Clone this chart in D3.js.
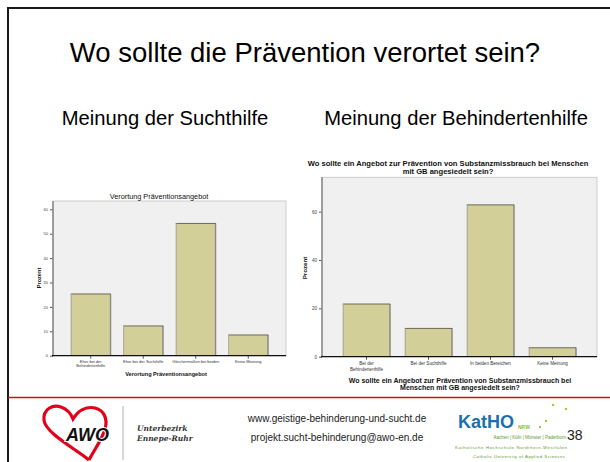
<!DOCTYPE html>
<html>
<head>
<meta charset="utf-8">
<script src="https://cdn.jsdelivr.net/npm/d3@7"></script>
<style>
  body { margin: 0; background: #fff; }
  svg { display: block; font-family: "Liberation Sans", Arial, sans-serif; }
</style>
</head>
<body>
<div id="slide"></div>
<script>
// values (percent)
const suchtCategories = ["Eher bei der\nBehindertenhilfe", "Eher bei der Suchthilfe", "Gleichermaßen bei beiden", "Keine Meinung"];
const suchtValues = [25.3, 12.2, 54.2, 8.5];
const suchtTicks = [0, 10, 20, 30, 40, 50, 60];

const behindCategories = ["Bei der\nBehindertenhilfe", "Bei der Suchthilfe", "In beiden Bereichen", "Keine Meinung"];
const behindValues = [21.8, 11.7, 62.8, 3.7];
const behindTicks = [0, 20, 40, 60];

const W = 610, H = 462;
const svg = d3.select("#slide").append("svg")
    .attr("width", W)
    .attr("height", H);

// slide frame
svg.append("path")
    .attr("d", `M8,${H} V8 H${W}`)
    .attr("fill", "none")
    .attr("stroke", "#1a1a1a")
    .attr("stroke-width", 2);

// headings
svg.append("text")
    .attr("x", 305).attr("y", 62)
    .attr("text-anchor", "middle")
    .style("font-size", "27.5px")
    .text("Wo sollte die Prävention verortet sein?");

svg.append("text")
    .attr("x", 165).attr("y", 125)
    .attr("text-anchor", "middle")
    .style("font-size", "20.2px")
    .text("Meinung der Suchthilfe");

svg.append("text")
    .attr("x", 456).attr("y", 125)
    .attr("text-anchor", "middle")
    .style("font-size", "20.2px")
    .text("Meinung der Behindertenhilfe");

function drawChart(cfg) {
    const g = svg.append("g");
    const [left, right] = cfg.xr;
    const [bottom, top] = cfg.yr;

    const x = d3.scaleBand()
        .domain(cfg.categories)
        .range([left, right])
        .paddingInner(cfg.pi)
        .paddingOuter(cfg.po);

    const y = d3.scaleLinear()
        .domain([0, cfg.ymax])
        .range([bottom, top]);

    // plot background
    g.append("rect")
        .attr("x", left).attr("y", top)
        .attr("width", right - left).attr("height", bottom - top)
        .attr("fill", "#f0f0f0")
        .attr("stroke", "#c4c4c4")
        .attr("stroke-width", 0.8);

    const data = cfg.categories.map((c, i) => ({ c, v: cfg.values[i] }));

    // bar shadow on the right side
    g.append("g").selectAll("rect")
        .data(data)
        .join("rect")
        .attr("x", d => x(d.c) + x.bandwidth() - 1.5)
        .attr("y", d => y(d.v))
        .attr("width", 2)
        .attr("height", d => y(0) - y(d.v))
        .attr("fill", "#8a8a80");

    // bars
    g.append("g").selectAll("rect")
        .data(data)
        .join("rect")
        .attr("x", d => x(d.c))
        .attr("y", d => y(d.v))
        .attr("width", x.bandwidth() - 1)
        .attr("height", d => y(0) - y(d.v))
        .attr("fill", "#d3cf98");

    // thin dark top edge + light left edge
    g.append("g").selectAll("line")
        .data(data)
        .join("line")
        .attr("x1", d => x(d.c))
        .attr("x2", d => x(d.c) + x.bandwidth())
        .attr("y1", d => y(d.v))
        .attr("y2", d => y(d.v))
        .attr("stroke", "#3a3a30")
        .attr("stroke-width", 0.7);
    g.append("g").selectAll("line")
        .data(data)
        .join("line")
        .attr("x1", d => x(d.c) + 0.5)
        .attr("x2", d => x(d.c) + 0.5)
        .attr("y1", d => y(d.v))
        .attr("y2", y(0))
        .attr("stroke", "#a8a8a0")
        .attr("stroke-width", 1);

    // y axis
    const ya = g.append("g")
        .attr("transform", `translate(${left},0)`)
        .call(d3.axisLeft(y).tickValues(cfg.ticks).tickSize(3).tickSizeOuter(0).tickPadding(2));
    ya.select(".domain").remove();
    ya.selectAll("line").attr("stroke", "#555");
    ya.selectAll("text")
        .style("font-size", cfg.tickFont + "px")
        .attr("fill", "#444");
    g.append("line")
        .attr("x1", left).attr("x2", left)
        .attr("y1", top).attr("y2", bottom)
        .attr("stroke", "#8c8c8c")
        .attr("stroke-width", 1.6);

    // x axis
    const xa = g.append("g")
        .attr("transform", `translate(0,${bottom})`)
        .call(d3.axisBottom(x).tickSize(3).tickSizeOuter(0).tickFormat(""));
    xa.select(".domain").remove();
    xa.selectAll("line").attr("stroke", "#555");
    g.append("line")
        .attr("x1", left - 1).attr("x2", right)
        .attr("y1", bottom).attr("y2", bottom)
        .attr("stroke", "#111")
        .attr("stroke-width", 1.3);

    // category labels (may wrap)
    g.append("g").selectAll("text")
        .data(cfg.categories)
        .join("text")
        .attr("text-anchor", "middle")
        .attr("fill", "#333")
        .style("font-size", cfg.tickFont + "px")
        .each(function (c) {
            const t = d3.select(this);
            c.split("\n").forEach((line, i) => {
                t.append("tspan")
                    .attr("x", x(c) + x.bandwidth() / 2)
                    .attr("y", bottom + cfg.labelDy + i * cfg.lineH)
                    .text(line);
            });
        });

    // titles
    cfg.title.lines.forEach((line, i) => {
        g.append("text")
            .attr("x", cfg.title.x)
            .attr("y", cfg.title.y + i * cfg.title.lh)
            .attr("text-anchor", "middle")
            .attr("fill", "#111")
            .style("font-size", cfg.title.size + "px")
            .style("font-weight", cfg.title.weight)
            .text(line);
    });
    cfg.xTitle.lines.forEach((line, i) => {
        g.append("text")
            .attr("x", cfg.xTitle.x)
            .attr("y", cfg.xTitle.y + i * cfg.xTitle.lh)
            .attr("text-anchor", "middle")
            .attr("fill", "#111")
            .style("font-size", cfg.xTitle.size + "px")
            .style("font-weight", "bold")
            .text(line);
    });
    g.append("text")
        .attr("transform", `translate(${cfg.yTitle.x},${cfg.yTitle.y}) rotate(-90)`)
        .attr("text-anchor", "middle")
        .attr("fill", "#111")
        .style("font-size", cfg.yTitle.size + "px")
        .style("font-weight", "bold")
        .text("Prozent");
}

drawChart({
    categories: suchtCategories,
    values: suchtValues,
    ticks: suchtTicks,
    xr: [53, 286], yr: [355.7, 201], ymax: 63.4,
    pi: 0.238, po: 0.338,
    tickFont: 4, labelDy: 7, lineH: 4.5,
    title: { lines: ["Verortung Präventionsangebot"], x: 159, y: 199, lh: 7, size: 7.3, weight: "normal" },
    xTitle: { lines: ["Verortung Präventionsangebot"], x: 166, y: 375.5, lh: 7, size: 5.6 },
    yTitle: { x: 41, y: 278, size: 5.6 }
});

drawChart({
    categories: behindCategories,
    values: behindValues,
    ticks: behindTicks,
    xr: [322, 597], yr: [356.7, 177.3], ymax: 74.2,
    pi: 0.234, po: 0.335,
    tickFont: 4.6, labelDy: 8.5, lineH: 6,
    title: {
        lines: ["Wo sollte ein Angebot zur Prävention von Substanzmissbrauch bei Menschen", "mit GB angesiedelt sein?"],
        x: 448, y: 166, lh: 8.2, size: 7.6, weight: "bold"
    },
    xTitle: {
        lines: ["Wo sollte ein Angebot zur Prävention von Substanzmissbrauch bei", "Menschen mit GB angesiedelt sein?"],
        x: 460, y: 383, lh: 7.4, size: 7
    },
    yTitle: { x: 307, y: 268, size: 6.2 }
});

// footer
svg.append("line")
    .attr("x1", 8).attr("x2", W)
    .attr("y1", 397.5).attr("y2", 397.5)
    .attr("stroke", "#e2001a")
    .attr("stroke-width", 1.6);

// AWO logo
svg.append("path")
    .attr("d", "M89,460 C76,449 45,433 44,420 C43,409 53,404 61,407 C67,409 71,414 73,419 C78,411 86,406 95,408 C104,410 108,419 105,429 C102,440 94,450 89,460")
    .attr("fill", "none")
    .attr("stroke", "#e2001a")
    .attr("stroke-width", 3.2);
svg.append("text")
    .attr("x", 66).attr("y", 441)
    .style("font-size", "18px")
    .style("font-weight", "bold")
    .style("font-style", "italic")
    .attr("fill", "#111")
    .attr("stroke", "#fff")
    .attr("stroke-width", 2)
    .attr("paint-order", "stroke")
    .text("AWO");
svg.append("line")
    .attr("x1", 123).attr("x2", 123)
    .attr("y1", 406).attr("y2", 460)
    .attr("stroke", "#b0b0b0")
    .attr("stroke-width", 1);
svg.append("text")
    .attr("x", 137).attr("y", 431)
    .style("font-family", "'DejaVu Serif', serif")
    .style("font-size", "7.5px").style("font-weight", "bold").style("font-style", "italic")
    .attr("fill", "#333")
    .text("Unterbezirk");
svg.append("text")
    .attr("x", 137).attr("y", 441)
    .style("font-family", "'DejaVu Serif', serif")
    .style("font-size", "7.5px").style("font-weight", "bold").style("font-style", "italic")
    .attr("fill", "#333")
    .text("Ennepe-Ruhr");

svg.append("text")
    .attr("x", 337).attr("y", 422)
    .attr("text-anchor", "middle")
    .style("font-size", "10px")
    .attr("fill", "#222")
    .text("www.geistige-behinderung-und-sucht.de");
svg.append("text")
    .attr("x", 337).attr("y", 441)
    .attr("text-anchor", "middle")
    .style("font-size", "10px")
    .attr("fill", "#222")
    .text("projekt.sucht-behinderung@awo-en.de");

// KatHO logo
svg.append("text")
    .attr("x", 458).attr("y", 428)
    .style("font-size", "18px").style("font-weight", "bold")
    .attr("fill", "#1c6fae")
    .text("KatHO");
svg.append("text")
    .attr("x", 518).attr("y", 429)
    .style("font-size", "5px").style("font-weight", "bold")
    .attr("fill", "#8cbf3a")
    .text("NRW");
svg.append("g").selectAll("circle")
    .data([[553, 405], [566, 409], [546, 421], [540, 427]])
    .join("circle")
    .attr("cx", d => d[0]).attr("cy", d => d[1])
    .attr("r", 1.2)
    .attr("fill", "#a5c93a");
svg.append("text")
    .attr("x", 566).attr("y", 439)
    .attr("text-anchor", "end")
    .style("font-size", "4.5px")
    .attr("fill", "#5c9a2c")
    .text("Aachen | Köln | Münster | Paderborn");
svg.append("text")
    .attr("x", 567).attr("y", 440)
    .style("font-size", "14px")
    .attr("fill", "#222")
    .text("38");
svg.append("text")
    .attr("x", 455).attr("y", 449)
    .style("font-size", "4.3px")
    .attr("fill", "#5c9a2c")
    .attr("textLength", 112)
    .text("Katholische Hochschule Nordrhein-Westfalen");
svg.append("text")
    .attr("x", 473).attr("y", 458)
    .style("font-size", "4.3px")
    .attr("fill", "#5c9a2c")
    .attr("textLength", 92)
    .text("Catholic University of Applied Sciences");
</script>
</body>
</html>
